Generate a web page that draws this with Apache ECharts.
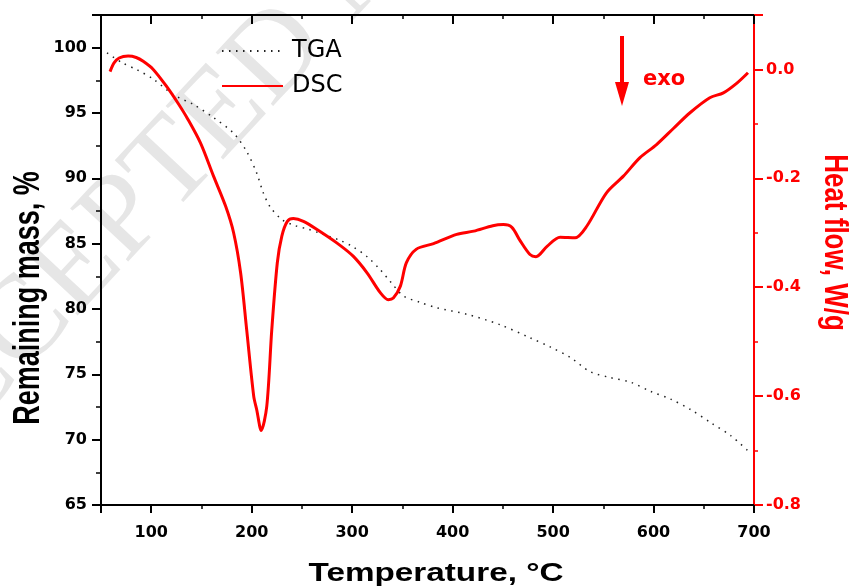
<!DOCTYPE html>
<html>
<head>
<meta charset="utf-8">
<script src="https://cdn.jsdelivr.net/npm/echarts@6/dist/echarts.min.js"></script>
<style>
  html, body { margin: 0; padding: 0; background: #fff; }
  #chart { width: 850px; height: 587px; }
</style>
</head>
<body>
<div id="chart"></div>
<script>
// Thermogravimetric (TGA) curve: temperature (°C) and remaining mass (%)
const tgaTemp = [56, 71, 86, 102, 122, 142, 162, 182, 195, 205, 211.5, 218.5, 230, 242.5, 256.5, 268, 288, 301, 315, 328, 338, 351, 368, 384, 414, 447, 477, 497, 517, 537, 557, 577, 597, 617, 637, 657, 677, 696];
const tgaMass = [99.6, 98.85, 98.3, 97.6, 96.4, 95.65, 94.65, 93.45, 92.05, 90.4, 88.9, 87.8, 86.85, 86.4, 86.1, 85.8, 85.25, 84.75, 84.0, 83.0, 82.1, 81.0, 80.5, 80.1, 79.6, 78.8, 77.8, 77.1, 76.3, 75.2, 74.75, 74.4, 73.7, 73.1, 72.3, 71.3, 70.3, 69.0];

// Differential scanning calorimetry (DSC) curve: temperature (°C) and heat flow (W/g)
const dscTemp = [59, 63, 68, 77, 85, 92, 102, 116, 127, 136, 149, 162, 174, 182, 189, 195, 202, 205, 209.5, 215, 220, 225.5, 230, 235.5, 241.5, 251.5, 265, 285, 301, 315, 328, 336, 341, 348, 354, 364, 381, 404, 421, 440, 450.5, 459, 467, 477, 483, 494, 507, 522, 533.5, 553, 570, 586.5, 603, 620, 636, 656, 669.5, 683, 694];
const dscHeat = [-0.004, 0.012, 0.021, 0.0245, 0.022, 0.015, 0.0, -0.033, -0.063, -0.09, -0.135, -0.196, -0.251, -0.3, -0.374, -0.478, -0.6, -0.625, -0.663, -0.619, -0.478, -0.355, -0.306, -0.279, -0.274, -0.279, -0.294, -0.319, -0.343, -0.374, -0.41, -0.423, -0.42, -0.398, -0.355, -0.33, -0.32, -0.303, -0.297, -0.287, -0.285, -0.29, -0.314, -0.34, -0.344, -0.325, -0.308, -0.309, -0.288, -0.227, -0.196, -0.162, -0.138, -0.108, -0.08, -0.052, -0.043, -0.025, -0.006];

// Axis ranges and tick spacing
const tempRange = [50, 700];
const massRange = [65, 102.5];
const massStep = 5;
const heatRange = [-0.8, 0.1];
const heatStep = 0.2;

// Legend names and annotation text
const seriesNames = ['TGA', 'DSC'];
const titles = { x: 'Temperature, °C', left: 'Remaining mass, %', right: 'Heat flow, W/g' };
const exoLabel = 'exo';
const stampText = 'ACCEPTED MANUSCRIPT';

const zip = (xs, ys) => xs.map((x, i) => [x, ys[i]]);

const RED = '#ff0000';
const BLACK = '#000000';
const labelFont = { fontFamily: 'DejaVu Sans', fontWeight: 'bold', fontSize: 16 };

const chart = echarts.init(document.getElementById('chart'), null, { renderer: 'canvas' });

const deg = Math.PI / 180;
const stampAngle = 47 * deg;

chart.setOption({
  animation: false,
  backgroundColor: '#ffffff',
  grid: { left: 101, right: 96, top: 15, bottom: 82, containLabel: false },
  legend: {
    left: 216, top: 34, orient: 'vertical',
    itemWidth: 61, itemHeight: 12, itemGap: 11,
    data: seriesNames,
    // line-only keys: hide the marker drawn in the middle of each key
    itemStyle: { opacity: 0 },
    textStyle: { fontFamily: 'DejaVu Sans', fontSize: 24, color: BLACK, padding: [0, 0, 0, 4] }
  },
  xAxis: [
    {
      type: 'value', position: 'bottom', min: tempRange[0], max: tempRange[1],
      axisLine: { show: true, onZero: false, lineStyle: { color: BLACK, width: 2 } },
      axisTick: { show: true, length: 8, lineStyle: { color: BLACK, width: 2 } },
      minorTick: { show: true, splitNumber: 2, length: 4, lineStyle: { color: BLACK, width: 1.5 } },
      axisLabel: Object.assign({ showMinLabel: false, margin: 20, color: BLACK }, labelFont),
      splitLine: { show: false }
    },
    {
      type: 'value', position: 'top', min: tempRange[0], max: tempRange[1],
      axisLine: { show: true, onZero: false, lineStyle: { color: BLACK, width: 2 } },
      axisTick: { show: true, inside: true, length: 9, lineStyle: { color: BLACK, width: 2 } },
      minorTick: { show: true, splitNumber: 2, length: 4, lineStyle: { color: BLACK, width: 1.5 } },
      axisLabel: { show: false },
      splitLine: { show: false }
    }
  ],
  yAxis: [
    {
      type: 'value', position: 'left', min: massRange[0], max: massRange[1], interval: massStep,
      axisLine: { show: true, onZero: false, lineStyle: { color: BLACK, width: 2 } },
      axisTick: { show: true, length: 9, lineStyle: { color: BLACK, width: 2 } },
      minorTick: { show: true, splitNumber: 2, length: 5, lineStyle: { color: BLACK, width: 1.5 } },
      axisLabel: Object.assign({ showMaxLabel: false, margin: 14, color: BLACK }, labelFont),
      splitLine: { show: false }
    },
    {
      type: 'value', position: 'right', min: heatRange[0], max: heatRange[1], interval: heatStep,
      axisLine: { show: true, onZero: false, lineStyle: { color: RED, width: 2 } },
      axisTick: { show: true, length: 9, lineStyle: { color: RED, width: 2 } },
      minorTick: { show: true, splitNumber: 2, length: 4, lineStyle: { color: RED, width: 1.5 } },
      axisLabel: Object.assign({
        showMaxLabel: false, margin: 12, color: RED,
        formatter: v => (Math.abs(v) < 1e-9 ? 0 : v).toFixed(1)
      }, labelFont),
      splitLine: { show: false }
    }
  ],
  series: [
    {
      name: seriesNames[0], type: 'line', xAxisIndex: 0, yAxisIndex: 0,
      data: zip(tgaTemp, tgaMass),
      symbol: 'none', showSymbol: false, smooth: 0.3, z: 3,
      lineStyle: { color: '#222222', width: 1.5, type: [1.5, 5.5] },
      itemStyle: { color: '#222222' }
    },
    {
      name: seriesNames[1], type: 'line', xAxisIndex: 0, yAxisIndex: 1,
      data: zip(dscTemp, dscHeat),
      symbol: 'none', showSymbol: false, smooth: 0.3, z: 4,
      lineStyle: { color: RED, width: 3 },
      itemStyle: { color: RED }
    }
  ],
  graphic: [
    // faint diagonal stamp behind the plot
    {
      type: 'text', z: -10, silent: true,
      x: -116, y: 477, rotation: stampAngle,
      style: {
        text: stampText, fill: '#e6e6e6',
        font: '120px "Liberation Serif", serif',
        textAlign: 'left', textVerticalAlign: 'middle', align: 'left', verticalAlign: 'middle'
      }
    },
    // "exo" direction arrow
    {
      type: 'line', z: 10,
      shape: { x1: 622, y1: 36, x2: 622, y2: 84 },
      style: { stroke: RED, lineWidth: 4 }
    },
    {
      type: 'polygon', z: 10,
      shape: { points: [[615, 82], [629, 82], [622, 106]] },
      style: { fill: RED }
    },
    {
      type: 'text', z: 10, x: 643, y: 80,
      style: {
        text: exoLabel, fill: RED, font: 'bold 21px "DejaVu Sans"',
        textAlign: 'left', textVerticalAlign: 'middle', align: 'left', verticalAlign: 'middle'
      }
    },
    // axis titles
    {
      type: 'text', z: 10, x: 436, y: 574, scaleX: 1.28,
      style: {
        text: titles.x, fill: BLACK, font: 'bold 26px "Liberation Sans", Arial, sans-serif',
        textAlign: 'center', textVerticalAlign: 'middle', align: 'center', verticalAlign: 'middle'
      }
    },
    {
      type: 'text', z: 10, x: 28.5, y: 298, rotation: Math.PI / 2, scaleY: 1.35,
      style: {
        text: titles.left, fill: BLACK, font: 'bold 27px "Liberation Sans", Arial, sans-serif',
        textAlign: 'center', textVerticalAlign: 'middle', align: 'center', verticalAlign: 'middle'
      }
    },
    {
      type: 'text', z: 10, x: 834, y: 242.5, rotation: -Math.PI / 2, scaleY: 1.3,
      style: {
        text: titles.right, fill: RED, font: 'bold 26px "Liberation Sans", Arial, sans-serif',
        textAlign: 'center', textVerticalAlign: 'middle', align: 'center', verticalAlign: 'middle'
      }
    }
  ]
});
</script>
</body>
</html>
